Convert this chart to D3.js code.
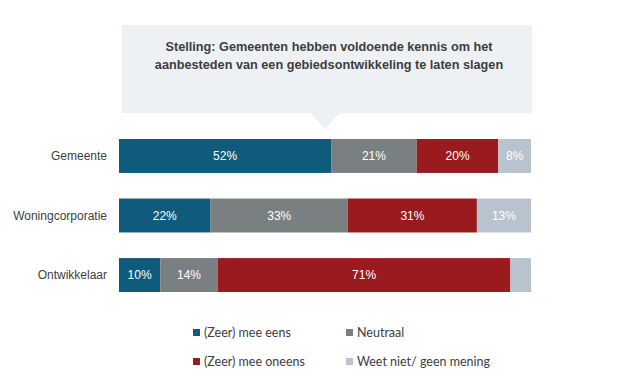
<!DOCTYPE html>
<html>
<head>
<meta charset="utf-8">
<script src="https://cdn.jsdelivr.net/npm/d3@7"></script>
<style>
  body { margin: 0; background: #fff; }
  svg { display: block; font-family: "Liberation Sans", Arial, sans-serif; }
</style>
</head>
<body>
<svg id="chart" width="639" height="387"></svg>
<script>
// Data
const categories = ["Gemeente", "Woningcorporatie", "Ontwikkelaar"];
const series = ["(Zeer) mee eens", "Neutraal", "(Zeer) mee oneens", "Weet niet/ geen mening"];
const eens = [52, 22, 10];
const neutraal = [21, 33, 14];
const oneens = [20, 31, 71];
const weetNiet = [8, 13, 5];
const showLabel = [[true, true, true, true], [true, true, true, true], [true, true, true, false]];
const colors = ["#0e5b7b", "#7a7f81", "#9a1b1e", "#b8c3cd"];
const titleLines = ["Stelling: Gemeenten hebben voldoende kennis om het",
                    "aanbesteden van een gebiedsontwikkeling te laten slagen"];

const svg = d3.select("#chart");

// Callout box with pointer
const box = {x: 122, y: 25, w: 410, h: 88};
const tipX = 325;
svg.append("path")
    .attr("d", `M${box.x},${box.y} H${box.x + box.w} V${box.y + box.h} H${tipX + 15} L${tipX},${box.y + box.h + 16} L${tipX - 15},${box.y + box.h} H${box.x} Z`)
    .attr("fill", "#eef1f3");

svg.append("g")
    .selectAll("text")
    .data(titleLines)
    .enter()
    .append("text")
    .attr("x", box.x + box.w / 2 + 2)
    .attr("y", (d, i) => 51 + i * 18)
    .attr("text-anchor", "middle")
    .attr("font-weight", "bold")
    .attr("font-size", 12.7)
    .attr("fill", "#3d3d3d")
    .text(d => d);

// Scales
const y = d3.scaleBand().domain(categories).range([139, 292]).paddingInner(0.43).paddingOuter(0);
const x = d3.scaleLinear().domain([0, 1]).range([119, 531]);

const rows = categories.map((c, i) => {
    const vals = [eens[i], neutraal[i], oneens[i], weetNiet[i]];
    const total = d3.sum(vals);
    let acc = 0;
    return vals.map((v, j) => {
        const seg = {cat: c, value: v, key: j, x0: acc / total, x1: (acc + v) / total, show: showLabel[i][j]};
        acc += v;
        return seg;
    });
});

const bars = svg.append("g");
rows.forEach(row => {
    const g = bars.append("g");
    g.selectAll("rect")
        .data(row)
        .enter()
        .append("rect")
        .attr("x", d => x(d.x0))
        .attr("y", d => y(d.cat))
        .attr("width", d => x(d.x1) - x(d.x0))
        .attr("height", y.bandwidth())
        .attr("fill", d => colors[d.key]);
    g.selectAll("text")
        .data(row.filter(d => d.show))
        .enter()
        .append("text")
        .attr("x", d => (x(d.x0) + x(d.x1)) / 2)
        .attr("y", d => y(d.cat) + y.bandwidth() / 2 + 4)
        .attr("text-anchor", "middle")
        .attr("font-size", 12)
        .attr("fill", "#fff")
        .text(d => d.value + "%");
});

// Category labels
svg.append("g")
    .selectAll("text")
    .data(categories)
    .enter()
    .append("text")
    .attr("x", 107)
    .attr("y", d => y(d) + y.bandwidth() / 2 + 4)
    .attr("text-anchor", "end")
    .attr("font-size", 12)
    .attr("fill", "#404040")
    .text(d => d);

// Legend
const legend = svg.append("g").attr("font-family", "Lato, 'Open Sans', sans-serif");
const legendPos = [[193, 333], [346, 333], [193, 362], [346, 362]];
const entry = legend.selectAll("g")
    .data(series)
    .enter()
    .append("g")
    .attr("transform", (d, i) => `translate(${legendPos[i][0]},${legendPos[i][1]})`);
entry.append("rect")
    .attr("x", 0)
    .attr("y", -4)
    .attr("width", 7)
    .attr("height", 7)
    .attr("fill", (d, i) => colors[i]);
entry.append("text")
    .attr("x", 11)
    .attr("y", 4)
    .attr("font-size", 12.5)
    .attr("fill", "#404040")
    .text(d => d);
</script>
</body>
</html>
